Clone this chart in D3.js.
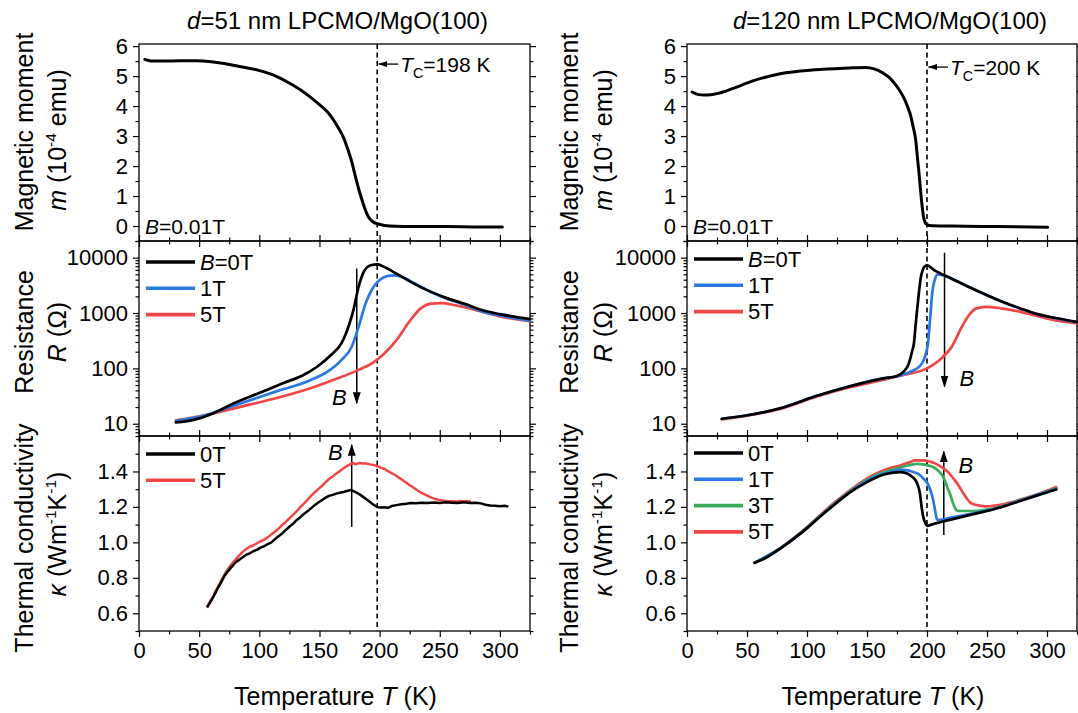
<!DOCTYPE html>
<html><head><meta charset="utf-8">
<script src="https://cdn.jsdelivr.net/npm/d3@7"></script>
<style>
body{margin:0;background:#fff;}
svg text{font-family:Arial,"Liberation Sans",Helvetica,sans-serif;fill:#000;}
</style></head><body>
<svg id="c" width="1078" height="713"></svg>
<script>
// ---------------- DATA ----------------
const titles = [
  [{t:"d",i:1},{t:"=51 nm LPCMO/MgO(100)"}],
  [{t:"d",i:1},{t:"=120 nm LPCMO/MgO(100)"}]
];
const tMajor = [0,50,100,150,200,250,300];
const tMinor = [25,75,125,175,225,275,325];
const mMajor = [0,1,2,3,4,5,6];
const mMinor = [-0.5,0.5,1.5,2.5,3.5,4.5,5.5];
const rMajor = [10,100,1000,10000];
const kMajor = [0.6,0.8,1.0,1.2,1.4];
const kMinor = [0.5,0.7,0.9,1.1,1.3,1.5];
const Tc = [198, 200];

// magnetic moment (T [K], m [1e-4 emu])
const m51 = [[4.9,5.56],[8,5.52],[11,5.50],[20,5.50],[33.5,5.51],[48,5.51],[60,5.48],[70.8,5.42],[85,5.31],[99.4,5.19],[112,5.03],[125.2,4.76],[135,4.52],[142.4,4.30],[150,4.05],[156.7,3.80],[162,3.52],[166,3.25],[170,2.95],[173.9,2.52],[177,2.12],[179.7,1.68],[182.5,1.25],[185.4,0.86],[188,0.55],[190.5,0.32],[194,0.15],[199.7,0.06],[208.3,0.0],[230,-0.02],[257,-0.02],[280,-0.03],[302,-0.03]];
const m120 = [[4.3,4.47],[9,4.39],[14,4.37],[20,4.38],[26.3,4.43],[37.7,4.58],[54.9,4.84],[77.7,5.08],[106.3,5.21],[134.9,5.27],[149,5.29],[156,5.24],[163.4,5.10],[168,4.97],[172,4.80],[176.5,4.56],[180.6,4.28],[184,3.96],[186.3,3.69],[188.5,3.30],[190.6,2.86],[192,2.30],[193.4,1.74],[194.5,1.25],[195.4,0.86],[196.3,0.55],[197.1,0.30],[198,0.17],[199.1,0.08],[202,0.02],[220.6,0.0],[260,-0.02],[300.6,-0.04]];

// resistance (T, R [Ohm])
const R51_0T = [[30.7,10.6],[39,11],[50.7,12.6],[62.2,15.6],[79.4,23.6],[99.4,35.5],[119.5,53.7],[136.7,76],[148,107],[159.6,174],[168.2,282],[171.5,400],[174,560],[178.2,1120],[182.5,2950],[186.8,5520],[192.6,7270],[198.3,7590],[202.6,6980],[214,5150],[228.4,3400],[242.7,2410],[257,1820],[271.3,1450],[285.7,1120],[300,955],[325,775]];
const R51_1T = [[30.7,11.2],[56.4,14.5],[85,23.5],[113.8,38],[142.4,61],[156.7,87],[168.2,141],[176.8,246],[182.5,562],[188.3,1480],[194,2750],[199.7,3900],[206.9,4680],[212.6,4800],[219.8,4370],[228.4,3500],[242.7,2400],[257,1780],[271.3,1400],[285.7,1060],[300,900],[325,725]];
const R51_5T = [[30.7,11.5],[56.4,14.5],[85,20.4],[113.8,28.8],[142.4,43.6],[165.3,66],[182.5,94],[194,124],[202.6,174],[214,324],[225.5,740],[234,1200],[242.7,1480],[251.3,1510],[262.8,1380],[285.7,1050],[300,870],[325,710]];
const R120_0T = [[29,12.3],[49,14.1],[77.7,19],[106.3,31],[134.9,47],[163.4,66],[174.9,73],[180.6,87],[184.9,123],[187.5,200],[189.1,282],[190.5,600],[192,1290],[193.5,2600],[194.9,4470],[196.5,6000],[197.7,6800],[200,7250],[206.3,5890],[220.6,4170],[234.9,2950],[249.1,2140],[263.4,1580],[277.7,1210],[292,955],[306.3,820],[325,690]];
const R120_1T = [[29,12.3],[49,14.1],[77.7,19],[106.3,31],[134.9,47],[163.4,66],[174.9,72],[186.3,87],[194.9,115],[199.1,186],[201,300],[202,562],[203,1000],[204,1950],[205,2900],[206.3,3900],[209.1,5000],[213.4,4800],[220.6,4170],[234.9,2950],[249.1,2140],[263.4,1570],[277.7,1200],[292,945],[306.3,810],[325,680]];
const R120_5T = [[29,12.0],[49,13.8],[77.7,18.5],[106.3,30],[134.9,45],[163.4,62],[180.6,76],[200,100],[212,151],[220.6,246],[229,562],[234.9,910],[240.6,1200],[249.1,1290],[260.6,1230],[277.7,1050],[306.3,740],[325,650]];

// thermal conductivity (T, kappa [W/mK])
const K51_0T = [[56.5,0.634],[59,0.66],[62,0.695],[65,0.735],[68,0.772],[71,0.81],[74,0.838],[77,0.862],[80,0.885],[83,0.9],[86,0.915],[89,0.93],[92,0.938],[95,0.95],[98,0.958],[101,0.97],[104,0.978],[107,0.99],[110,1.0],[113,1.018],[116,1.035],[119,1.05],[122,1.07],[125,1.088],[128,1.105],[131,1.125],[134,1.142],[137,1.16],[140,1.175],[143,1.192],[146,1.21],[149,1.225],[152,1.238],[155,1.252],[158,1.262],[161,1.268],[164,1.275],[167,1.28],[170,1.284],[173,1.29],[176,1.295],[178,1.29],[180,1.283],[183,1.272],[186,1.258],[189,1.243],[192,1.228],[195,1.212],[198,1.2],[201,1.196],[204,1.198],[207,1.195],[210,1.205],[214,1.21],[218,1.215],[222,1.218],[226,1.222],[230,1.22],[235,1.224],[240,1.222],[245,1.225],[250,1.222],[255,1.226],[260,1.224],[265,1.222],[270,1.226],[275,1.222],[280,1.224],[284,1.22],[288,1.212],[292,1.208],[296,1.206],[300,1.204],[304,1.206],[307,1.202]];
const K51_5T = [[56.5,0.632],[59,0.665],[62,0.7],[65,0.742],[68,0.78],[71,0.818],[74,0.85],[77,0.878],[80,0.9],[83,0.925],[86,0.945],[89,0.962],[92,0.975],[95,0.982],[98,0.995],[101,1.005],[104,1.015],[107,1.028],[110,1.045],[113,1.06],[116,1.078],[119,1.098],[122,1.115],[125,1.135],[128,1.155],[131,1.175],[134,1.198],[137,1.218],[140,1.24],[143,1.262],[146,1.282],[149,1.3],[152,1.318],[155,1.338],[158,1.358],[161,1.372],[164,1.388],[167,1.402],[170,1.418],[173,1.432],[176,1.442],[178,1.448],[180,1.44],[183,1.448],[186,1.445],[189,1.445],[192,1.44],[195,1.436],[198,1.43],[201,1.422],[204,1.414],[207,1.402],[210,1.39],[213,1.38],[216,1.365],[219,1.352],[222,1.338],[225,1.322],[228,1.31],[231,1.295],[234,1.282],[237,1.272],[240,1.262],[243,1.252],[246,1.245],[249,1.24],[252,1.236],[256,1.232],[260,1.232],[264,1.23],[268,1.234],[272,1.232],[276,1.23]];
const K120_0T = [[56.3,0.885],[65,0.91],[77.7,0.965],[90,1.025],[100.6,1.083],[110,1.14],[120.6,1.2],[130,1.252],[140.6,1.303],[150,1.34],[157.7,1.366],[165,1.384],[172,1.393],[177.7,1.396],[182,1.392],[185,1.383],[188,1.368],[190.6,1.349],[192.5,1.32],[194,1.28],[195.5,1.2],[197,1.14],[198.5,1.11],[200,1.093],[203.4,1.1],[210,1.112],[220.6,1.13],[237.7,1.158],[254.9,1.185],[265,1.205],[277.7,1.233],[292,1.265],[307.7,1.298]];
const K120_1T = [[56.3,0.885],[77.7,0.966],[100.6,1.085],[120.6,1.203],[140.6,1.308],[157.7,1.373],[170,1.398],[177.7,1.409],[183,1.407],[188,1.398],[193,1.385],[197,1.36],[200.6,1.331],[203,1.29],[204.9,1.246],[206.5,1.19],[207.5,1.15],[209.1,1.125],[212,1.128],[220,1.14],[234.9,1.158],[254.9,1.187],[277.7,1.236],[292,1.268],[307.7,1.302]];
const K120_3T = [[56.3,0.885],[77.7,0.967],[100.6,1.087],[120.6,1.206],[140.6,1.312],[157.7,1.38],[170,1.408],[177.7,1.422],[185,1.435],[192,1.443],[197,1.44],[200.6,1.434],[205,1.425],[209.1,1.406],[212,1.385],[214.9,1.349],[217,1.31],[219.1,1.274],[221,1.235],[222.9,1.2],[224.5,1.182],[226.3,1.177],[237.7,1.177],[254.9,1.19],[265,1.208],[277.7,1.238],[292,1.27],[307.7,1.304]];
const K120_5T = [[56.3,0.884],[77.7,0.968],[100.6,1.09],[120.6,1.212],[140.6,1.318],[157.7,1.388],[163.4,1.405],[170,1.42],[177.7,1.434],[185,1.45],[190,1.462],[197.7,1.462],[202,1.456],[206.3,1.447],[212,1.425],[217.7,1.396],[222,1.36],[226.3,1.321],[230,1.28],[233.4,1.246],[236,1.225],[239.1,1.215],[244,1.207],[249.1,1.203],[256,1.207],[263.4,1.215],[270,1.226],[277.7,1.241],[292,1.271],[307.7,1.312]];

// annotation anchors in data units
const arrowsR = [{T:181, from:6400, to:23.5, bT:160.5, bV:22}, {T:214.6, from:12300, to:47, bT:227, bV:49}];
const arrowsK = [{T:176.8, from:1.087, to:1.55, bT:157, bV:1.462}, {T:214, from:1.042, to:1.513, bT:226.3, bV:1.394}];
const tcLabelM = [5.4, 5.3];

// ---------------- LAYOUT ----------------
const FONT = 'Arial, "Liberation Sans", Helvetica, sans-serif';
const BLACK="#000000", BLUE="#2a78e2", RED="#f04646", GREEN="#3dab5c";
const cols = [[139,530],[687,1077]];
const svg = d3.select("#c");

const xs = cols.map(c => d3.scaleLinear().domain([0,325]).range(c));
const yM = d3.scaleLinear().domain([-0.5,6.07]).range([241,44]);
const yR = d3.scaleLog().domain([6,20000]).range([436,241]);
const yK = d3.scaleLinear().domain([0.5,1.6]).range([631,436]);

const rMinor = [];
for (let e=0;e<=4;e++) for (let d=2;d<=9;d++){ const v=d*Math.pow(10,e); if(v>=6 && v<=20000) rMinor.push(v); }

function rich(sel, parts, size){
  let shift = 0;
  parts.forEach(p=>{
    const ts = sel.append("tspan").text(p.t);
    if(p.i) ts.attr("font-style","italic");
    let target = 0, fs = size;
    if(p.sup){ target = -0.42*size; fs = size*0.62; }
    if(p.sub){ target = 0.3*size; fs = size*0.68; }
    ts.attr("font-size", fs);
    if(target !== shift){ ts.attr("dy", target-shift); shift = target; }
  });
}

function styleAxis(g, fs){
  g.attr("font-family", FONT).attr("font-size", fs);
  g.selectAll(".domain").remove();
  g.selectAll("line").attr("stroke","#000").attr("stroke-width",1.2);
  g.selectAll("text").attr("fill","#000");
}

function drawAxes(x, y, yMaj, yMin, yFmt, opts){
  const [x0,x1] = x.range(); const [yb,yt] = y.range();
  const g = svg.append("g");
  // left
  g.append("g").attr("transform",`translate(${x0},0)`)
   .call(d3.axisLeft(y).tickValues(yMaj).tickSize(6).tickPadding(5).tickFormat(yFmt)).call(a=>styleAxis(a,22));
  g.append("g").attr("transform",`translate(${x0},0)`)
   .call(d3.axisLeft(y).tickValues(yMin).tickSize(3.5).tickFormat("")).call(a=>styleAxis(a,22));
  // right
  g.append("g").attr("transform",`translate(${x1},0)`)
   .call(d3.axisRight(y).tickValues(yMaj).tickSize(6).tickFormat("")).call(a=>styleAxis(a,22));
  g.append("g").attr("transform",`translate(${x1},0)`)
   .call(d3.axisRight(y).tickValues(yMin).tickSize(3.5).tickFormat("")).call(a=>styleAxis(a,22));
  // bottom
  g.append("g").attr("transform",`translate(0,${yb})`)
   .call(d3.axisBottom(x).tickValues(tMajor).tickSize(6).tickPadding(5).tickFormat(opts.xLabels? d3.format("d") : "")).call(a=>styleAxis(a,22));
  g.append("g").attr("transform",`translate(0,${yb})`)
   .call(d3.axisBottom(x).tickValues(tMinor).tickSize(3.5).tickFormat("")).call(a=>styleAxis(a,22));
  if(opts.top){
    g.append("g").attr("transform",`translate(0,${yt})`)
     .call(d3.axisTop(x).tickValues(tMajor).tickSize(6).tickFormat("")).call(a=>styleAxis(a,22));
    g.append("g").attr("transform",`translate(0,${yt})`)
     .call(d3.axisTop(x).tickValues(tMinor).tickSize(3.5).tickFormat("")).call(a=>styleAxis(a,22));
  }
  g.append("rect").attr("x",x0).attr("y",yt).attr("width",x1-x0).attr("height",yb-yt)
   .attr("fill","none").attr("stroke","#000").attr("stroke-width",1.3);
}

function curve(x, y, data, color, w){
  const line = d3.line().x(d=>x(d[0])).y(d=>y(d[1])).curve(d3.curveMonotoneX);
  svg.append("path").datum(data).attr("d", line).attr("fill","none")
     .attr("stroke", color).attr("stroke-width", w||2.7).attr("stroke-linejoin","round").attr("stroke-linecap","round");
}
function jagged(x, y, data, color, w){
  const line = d3.line().x(d=>x(d[0])).y(d=>y(d[1])).curve(d3.curveLinear);
  svg.append("path").datum(data).attr("d", line).attr("fill","none")
     .attr("stroke", color).attr("stroke-width", w||2.5).attr("stroke-linejoin","round");
}

function legend(x0, yTop, items, firstOff){
  items.forEach((it,i)=>{
    const yy = yTop + firstOff + i*26.3;
    svg.append("line").attr("x1",x0+7).attr("x2",x0+56).attr("y1",yy).attr("y2",yy)
       .attr("stroke",it.c).attr("stroke-width",3.6);
    const t = svg.append("text").attr("x",x0+61).attr("y",yy+7.5).attr("font-size",22);
    rich(t, it.parts, 22);
  });
}

function yLabel(xb1, xb2, yc1, yc2, l1, l2){
  const t1 = svg.append("text").attr("transform",`translate(${xb1},${yc1}) rotate(-90)`)
    .attr("text-anchor","middle").attr("font-size",25);
  rich(t1, l1, 25);
  const t2 = svg.append("text").attr("transform",`translate(${xb2},${yc2}) rotate(-90)`)
    .attr("text-anchor","middle").attr("font-size",25);
  rich(t2, l2, 25);
}

const defs = svg.append("defs");
defs.append("marker").attr("id","ah").attr("viewBox","0 0 12 8").attr("refX",11).attr("refY",4)
  .attr("markerWidth",12).attr("markerHeight",8).attr("markerUnits","userSpaceOnUse").attr("orient","auto")
  .append("path").attr("d","M0,0 L12,4 L0,8 Z").attr("fill","#000");
defs.append("marker").attr("id","ahs").attr("viewBox","0 0 9 6").attr("refX",8.5).attr("refY",3)
  .attr("markerWidth",9).attr("markerHeight",6).attr("markerUnits","userSpaceOnUse").attr("orient","auto")
  .append("path").attr("d","M0,0 L9,3 L0,6 Z").attr("fill","#000");

// ---------------- DRAW ----------------
[0,1].forEach(ci=>{
  const x = xs[ci];
  drawAxes(x, yM, mMajor, mMinor, d3.format("d"), {xLabels:false, top:false});
  drawAxes(x, yR, rMajor, rMinor, d3.format("d"), {xLabels:false, top:true});
  drawAxes(x, yK, kMajor, kMinor, d3.format(".1f"), {xLabels:true, top:true});

  // dashed Tc line
  svg.append("line").attr("x1",x(Tc[ci])).attr("x2",x(Tc[ci])).attr("y1",yM.range()[1]).attr("y2",yK.range()[0])
    .attr("stroke","#000").attr("stroke-width",1.6).attr("stroke-dasharray","5,3.5");

  // title
  const tt = svg.append("text").attr("x",(x.range()[0]+x.range()[1])/2 + (ci?8:3)).attr("y",29)
     .attr("text-anchor","middle").attr("font-size",24);
  rich(tt, titles[ci], 24);

  // x title
  const xt = svg.append("text").attr("x",(x.range()[0]+x.range()[1])/2 + 1).attr("y",705)
     .attr("text-anchor","middle").attr("font-size",25);
  rich(xt, [{t:"Temperature "},{t:"T",i:1},{t:" (K)"}], 25);

  // Tc annotation
  const ya = yM(tcLabelM[ci]);
  svg.append("line").attr("x1",x(Tc[ci])+21).attr("x2",x(Tc[ci])+1.5).attr("y1",ya).attr("y2",ya)
     .attr("stroke","#000").attr("stroke-width",1.3).attr("marker-end","url(#ahs)");
  const ta = svg.append("text").attr("x",x(Tc[ci])+23).attr("y",ya+7.5).attr("font-size",21);
  rich(ta, [{t:"T",i:1},{t:"C",sub:1},{t:"="+Tc[ci]+" K"}], 21);

  // B=0.01T
  const tb = svg.append("text").attr("x",x(5)).attr("y",yM(-0.26)).attr("font-size",21);
  rich(tb, [{t:"B",i:1},{t:"=0.01T"}], 21);

  // B arrows
  const aR = arrowsR[ci];
  svg.append("line").attr("x1",x(aR.T)).attr("x2",x(aR.T)).attr("y1",yR(aR.from)).attr("y2",yR(aR.to))
     .attr("stroke","#000").attr("stroke-width",1.5).attr("marker-end","url(#ah)");
  svg.append("text").attr("x",x(aR.bT)).attr("y",yR(aR.bV)).attr("font-size",22).attr("font-style","italic").text("B");
  const aK = arrowsK[ci];
  svg.append("line").attr("x1",x(aK.T)).attr("x2",x(aK.T)).attr("y1",yK(aK.from)).attr("y2",yK(aK.to))
     .attr("stroke","#000").attr("stroke-width",1.5).attr("marker-end","url(#ah)");
  svg.append("text").attr("x",x(aK.bT)).attr("y",yK(aK.bV)).attr("font-size",22).attr("font-style","italic").text("B");
});

// curves
curve(xs[0], yM, m51, BLACK, 3);
curve(xs[1], yM, m120, BLACK, 3);

curve(xs[0], yR, R51_5T, RED);
curve(xs[0], yR, R51_1T, BLUE);
curve(xs[0], yR, R51_0T, BLACK);
curve(xs[1], yR, R120_5T, RED);
curve(xs[1], yR, R120_1T, BLUE);
curve(xs[1], yR, R120_0T, BLACK);

jagged(xs[0], yK, K51_5T, RED);
jagged(xs[0], yK, K51_0T, BLACK);
curve(xs[1], yK, K120_5T, RED);
curve(xs[1], yK, K120_3T, GREEN);
curve(xs[1], yK, K120_1T, BLUE);
curve(xs[1], yK, K120_0T, BLACK);

// legends
legend(cols[0][0], 241, [{c:BLACK,parts:[{t:"B",i:1},{t:"=0T"}]},{c:BLUE,parts:[{t:"1T"}]},{c:RED,parts:[{t:"5T"}]}], 21);
legend(cols[1][0], 241, [{c:BLACK,parts:[{t:"B",i:1},{t:"=0T"}]},{c:BLUE,parts:[{t:"1T"}]},{c:RED,parts:[{t:"5T"}]}], 18);
legend(cols[0][0], 436, [{c:BLACK,parts:[{t:"0T"}]},{c:RED,parts:[{t:"5T"}]}], 18);
legend(cols[1][0], 436, [{c:BLACK,parts:[{t:"0T"}]},{c:BLUE,parts:[{t:"1T"}]},{c:GREEN,parts:[{t:"3T"}]},{c:RED,parts:[{t:"5T"}]}], 17);

// y labels
[[33,66],[578,612]].forEach(b=>{
  yLabel(b[0], b[1], 132, 140, [{t:"Magnetic moment"}], [{t:"m",i:1},{t:" (10"},{t:"-4",sup:1},{t:" emu)"}]);
  yLabel(b[0], b[1], 332, 332, [{t:"Resistance"}], [{t:"R",i:1},{t:" (Ω)"}]);
  yLabel(b[0], b[1], 538, 534, [{t:"Thermal conductivity"}], [{t:"κ",i:1},{t:" (Wm"},{t:"-1",sup:1},{t:"K"},{t:"-1",sup:1},{t:")"}]);
});
</script>
</body></html>
